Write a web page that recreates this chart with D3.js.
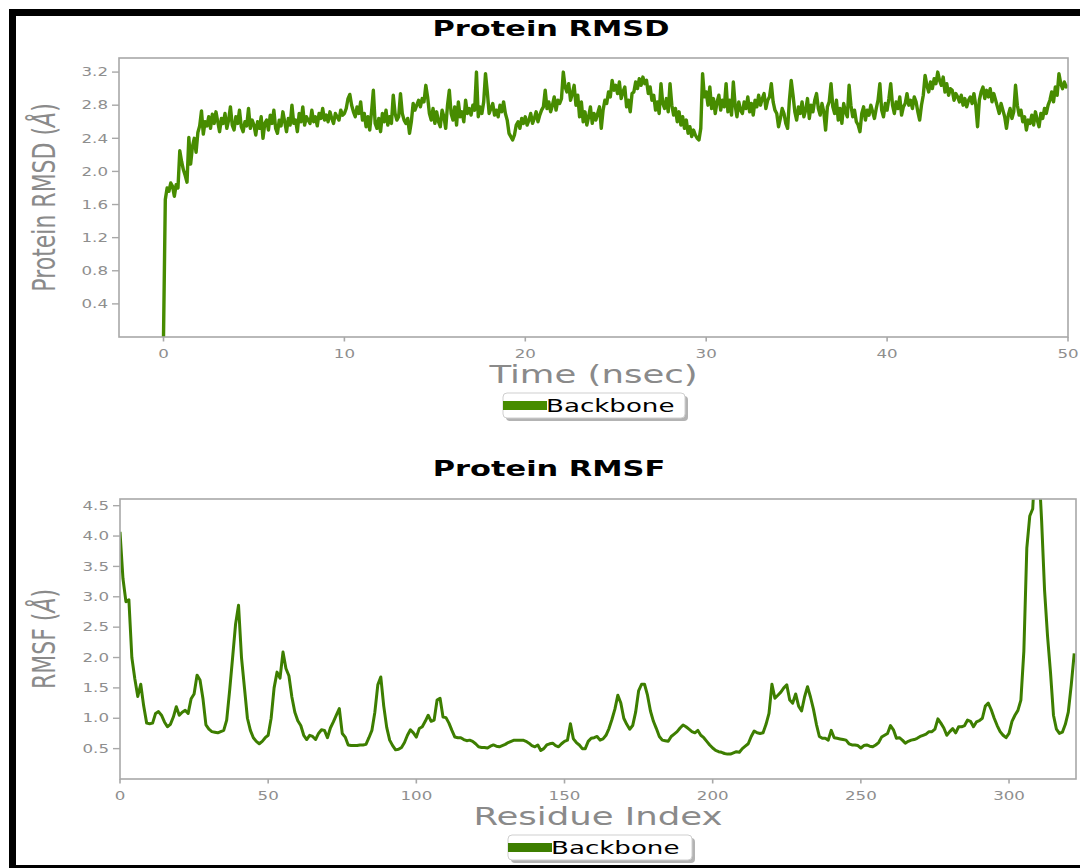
<!DOCTYPE html>
<html>
<head>
<meta charset="utf-8">
<script src="https://cdn.jsdelivr.net/npm/d3@7"></script>
<style>
  html, body { margin: 0; padding: 0; background: #fff; }
  svg { display: block; }
</style>
</head>
<body>
<script>
// ---- data -------------------------------------------------------------
// Backbone RMSD (Å), one frame every 0.1 ns from 0 to 50 ns
const rmsdStepNs = 0.1;
const rmsdBackbone = [
  0.00, 1.66, 1.80, 1.76, 1.86, 1.82, 1.70, 1.84, 1.80, 2.25,
  2.12, 2.02, 1.95, 1.87, 2.41, 2.09, 2.30, 2.40, 2.23, 2.47,
  2.55, 2.73, 2.45, 2.60, 2.55, 2.66, 2.52, 2.69, 2.58, 2.72,
  2.60, 2.48, 2.64, 2.58, 2.70, 2.52, 2.62, 2.78, 2.56, 2.50,
  2.66, 2.58, 2.74, 2.54, 2.48, 2.60, 2.55, 2.76, 2.52, 2.62,
  2.56, 2.44, 2.60, 2.52, 2.66, 2.40, 2.58, 2.62, 2.50, 2.68,
  2.58, 2.74, 2.52, 2.46, 2.62, 2.55, 2.72, 2.60, 2.48, 2.64,
  2.56, 2.80, 2.58, 2.62, 2.48, 2.70, 2.60, 2.78, 2.56, 2.66,
  2.62, 2.58, 2.74, 2.60, 2.66, 2.55, 2.70, 2.64, 2.76, 2.62,
  2.68, 2.60, 2.72, 2.64, 2.58, 2.70, 2.66, 2.62, 2.74, 2.68,
  2.70, 2.76, 2.88, 2.93, 2.80, 2.72, 2.66, 2.78, 2.70, 2.84,
  2.62, 2.70, 2.54, 2.66, 2.50, 2.72, 2.98, 2.58, 2.52, 2.64,
  2.48, 2.70, 2.60, 2.74, 2.56, 2.66, 2.58, 2.92, 2.70, 2.62,
  2.66, 2.94, 2.70, 2.62, 2.58, 2.64, 2.46, 2.60, 2.82, 2.74,
  2.80, 2.86, 2.78, 2.88, 2.84, 3.04, 2.90, 2.70, 2.62, 2.76,
  2.58, 2.72, 2.60, 2.54, 2.74, 2.66, 2.52, 2.80, 2.98, 2.70,
  2.62, 2.78, 2.56, 2.84, 2.66, 2.72, 2.60, 2.86, 2.70, 2.76,
  2.68, 2.80, 2.74, 3.20, 2.66, 2.78, 2.70, 2.84, 3.18, 2.96,
  2.70, 2.76, 2.82, 2.68, 2.74, 2.66, 2.80, 2.72, 2.84, 2.70,
  2.62, 2.46, 2.42, 2.38, 2.44, 2.56, 2.60, 2.52, 2.64, 2.58,
  2.66, 2.56, 2.62, 2.70, 2.58, 2.64, 2.72, 2.60, 2.68, 2.74,
  2.78, 2.98, 2.76, 2.84, 2.72, 2.80, 2.90, 2.74, 2.86, 2.82,
  2.88, 3.20, 3.02, 2.96, 3.06, 2.86, 2.94, 3.04, 2.80, 2.92,
  2.66, 2.84, 2.60, 2.72, 2.56, 2.66, 2.78, 2.58, 2.70, 2.62,
  2.70, 2.78, 2.52, 2.74, 2.86, 2.82, 2.96, 2.90, 3.10, 2.98,
  3.04, 2.94, 3.08, 2.88, 2.96, 3.02, 2.78, 2.86, 2.72, 2.94,
  2.96, 3.08, 3.00, 3.12, 3.04, 3.14, 3.06, 3.10, 2.94, 3.02,
  2.86, 2.92, 2.74, 2.84, 2.70, 3.06, 2.82, 2.76, 2.88, 2.72,
  3.06, 2.80, 2.68, 2.76, 2.60, 2.72, 2.56, 2.66, 2.52, 2.62,
  2.46, 2.54, 2.42, 2.50, 2.44, 2.40, 2.38, 2.52, 3.18, 2.90,
  2.96, 2.80, 3.02, 2.76, 2.88, 2.70, 2.84, 2.92, 2.74, 2.86,
  2.78, 3.06, 2.72, 2.86, 2.68, 3.08, 2.80, 2.66, 2.84, 2.74,
  2.70, 2.84, 2.76, 2.90, 2.72, 2.82, 2.68, 2.86, 2.78, 2.92,
  2.80, 2.88, 2.94, 2.76, 2.86, 2.90, 3.06, 2.84, 2.74, 2.70,
  2.54, 2.64, 2.76, 2.70, 2.58, 2.52, 2.86, 3.10, 2.92, 2.72,
  2.62, 2.78, 2.70, 2.84, 2.66, 2.74, 2.88, 2.64, 2.80, 2.72,
  2.86, 2.94, 2.76, 2.68, 2.82, 2.72, 2.50, 2.78, 2.84, 3.06,
  2.78, 2.70, 2.86, 2.62, 2.76, 2.58, 2.82, 2.72, 2.66, 3.04,
  2.80, 2.66, 2.74, 2.60, 2.56, 2.48, 2.70, 2.78, 2.62, 2.74,
  2.68, 2.80, 2.72, 2.64, 2.76, 2.86, 3.06, 2.74, 2.66, 2.82,
  2.74, 2.88, 3.06, 2.80, 2.70, 2.84, 2.76, 2.90, 2.68, 2.78,
  2.82, 2.94, 2.80, 2.86, 2.76, 2.90, 2.84, 2.72, 2.62, 2.80,
  2.92, 3.16, 3.04, 2.96, 3.08, 3.00, 3.12, 3.06, 3.20, 3.10,
  3.04, 3.14, 2.96, 3.06, 2.92, 3.00, 2.98, 2.86, 2.94, 2.90,
  2.84, 2.92, 2.80, 2.88, 2.78, 2.86, 2.90, 2.82, 2.94, 2.80,
  2.54, 2.86, 2.96, 3.02, 2.88, 2.98, 2.90, 3.00, 2.84, 2.94,
  2.86, 2.78, 2.70, 2.82, 2.74, 2.66, 2.52, 2.68, 2.76, 2.64,
  2.72, 3.04, 2.80, 2.68, 2.74, 2.60, 2.66, 2.50, 2.62, 2.58,
  2.68, 2.56, 2.72, 2.62, 2.54, 2.70, 2.64, 2.76, 2.70, 2.80,
  2.86, 2.96, 2.84, 3.02, 2.92, 3.18, 3.06, 3.00, 3.08, 3.02,
  3.04
];

// Backbone RMSF (Å) per residue, residue index 0 .. 322
const rmsfBackbone = [
  4.07, 3.30, 2.92, 2.95, 2.00, 1.65, 1.36, 1.56, 1.20, 0.92,
  0.91, 0.92, 1.08, 1.11, 1.05, 0.94, 0.86, 0.90, 1.02, 1.19,
  1.05, 1.10, 1.13, 1.08, 1.32, 1.40, 1.71, 1.63, 1.32, 0.89,
  0.82, 0.78, 0.77, 0.76, 0.78, 0.80, 0.97, 1.46, 2.00, 2.55,
  2.86, 2.00, 1.50, 1.00, 0.80, 0.68, 0.62, 0.58, 0.62, 0.68,
  0.72, 1.00, 1.50, 1.76, 1.66, 2.09, 1.82, 1.70, 1.35, 1.10,
  0.96, 0.88, 0.72, 0.65, 0.72, 0.70, 0.65, 0.75, 0.81, 0.80,
  0.68, 0.84, 0.94, 1.05, 1.16, 0.75, 0.69, 0.56, 0.55, 0.55,
  0.55, 0.56, 0.56, 0.57, 0.68, 0.80, 1.10, 1.55, 1.68, 1.20,
  0.85, 0.64, 0.55, 0.48, 0.49, 0.52, 0.60, 0.72, 0.81, 0.76,
  0.69, 0.83, 0.86, 0.95, 1.05, 0.95, 0.97, 1.30, 1.33, 1.02,
  1.01, 0.92, 0.80, 0.69, 0.68, 0.68, 0.65, 0.63, 0.64, 0.62,
  0.58, 0.53, 0.52, 0.52, 0.51, 0.54, 0.56, 0.54, 0.53, 0.55,
  0.57, 0.60, 0.62, 0.64, 0.64, 0.64, 0.64, 0.62, 0.59, 0.55,
  0.53, 0.56, 0.47, 0.50, 0.56, 0.58, 0.59, 0.55, 0.53, 0.58,
  0.62, 0.64, 0.91, 0.66, 0.60, 0.56, 0.50, 0.50, 0.62, 0.67,
  0.68, 0.70, 0.64, 0.66, 0.72, 0.83, 0.98, 1.15, 1.38, 1.25,
  1.00, 0.90, 0.82, 0.88, 1.10, 1.45, 1.56, 1.56, 1.38, 1.12,
  0.95, 0.83, 0.70, 0.64, 0.63, 0.62, 0.70, 0.74, 0.78, 0.84,
  0.89, 0.86, 0.82, 0.78, 0.76, 0.80, 0.72, 0.68, 0.62, 0.56,
  0.51, 0.47, 0.45, 0.44, 0.42, 0.41, 0.41, 0.43, 0.45, 0.44,
  0.50, 0.54, 0.58, 0.70, 0.79, 0.76, 0.75, 0.76, 0.90, 1.08,
  1.56, 1.33, 1.38, 1.43, 1.50, 1.55, 1.30, 1.25, 1.40, 1.20,
  1.12, 1.35, 1.52, 1.35, 1.15, 0.90, 0.70, 0.67, 0.67, 0.64,
  0.80, 0.68, 0.67, 0.66, 0.65, 0.64, 0.58, 0.56, 0.56, 0.55,
  0.51, 0.55, 0.56, 0.54, 0.53, 0.56, 0.60, 0.69, 0.72, 0.75,
  0.88, 0.81, 0.67, 0.68, 0.64, 0.59, 0.62, 0.64, 0.65, 0.67,
  0.70, 0.72, 0.74, 0.78, 0.78, 0.82, 0.99, 0.92, 0.84, 0.72,
  0.78, 0.83, 0.76, 0.86, 0.86, 0.88, 0.97, 0.95, 0.86, 0.94,
  0.96, 1.00, 1.20, 1.25, 1.14, 1.00, 0.88, 0.78, 0.72, 0.68,
  0.75, 0.95, 1.05, 1.13, 1.30, 2.10, 3.80, 4.33, 4.45, 5.40,
  5.20, 4.25, 3.10, 2.35, 1.75, 1.05, 0.82, 0.75, 0.77, 0.90,
  1.10, 1.55, 2.07
];

// Axis ticks
const rmsdTicksX = [0, 10, 20, 30, 40, 50];
const rmsdTicksY = [0.4, 0.8, 1.2, 1.6, 2.0, 2.4, 2.8, 3.2];
const rmsfTicksX = [0, 50, 100, 150, 200, 250, 300];
const rmsfTicksY = [0.5, 1.0, 1.5, 2.0, 2.5, 3.0, 3.5, 4.0, 4.5];

const seriesName = "Backbone";

// ---- styling ----------------------------------------------------------
const W = 1080, H = 868;
const SX = 1.45;                 // horizontal stretch of the exported figure
const FONT = "'DejaVu Sans', Verdana, sans-serif";
const SPINE = "#a8a8a8";
const TICKTXT = "#8e8e8e";
const LABEL = "#8a8a8a";
const GREEN_TOP = "#478c00";
const GREEN_BOTTOM = "#3d7e00";

const svg = d3.select("body").append("svg")
  .attr("width", W).attr("height", H)
  .attr("viewBox", `0 0 ${W} ${H}`);

svg.append("rect").attr("width", W).attr("height", H).attr("fill", "#fff");

// frame around the figure
svg.append("rect").attr("x", 9).attr("y", 9).attr("width", W - 9).attr("height", 7).attr("fill", "#000");
svg.append("rect").attr("x", 9).attr("y", 9).attr("width", 7).attr("height", H - 9).attr("fill", "#000");
svg.append("rect").attr("x", 9).attr("y", 865).attr("width", W - 9).attr("height", 3).attr("fill", "#000");

// text drawn with the same horizontal stretch as the rest of the figure
function stretchedText(g, x, y, str, size, opts = {}) {
  const rot = opts.rotate ? ` rotate(${opts.rotate})` : "";
  return g.append("text")
    .attr("transform", `translate(${x},${y}) scale(${SX},1)${rot}`)
    .attr("text-anchor", opts.anchor || "middle")
    .attr("font-family", FONT)
    .attr("font-size", size)
    .attr("font-weight", opts.weight || "normal")
    .attr("fill", opts.fill || "#000")
    .text(str);
}

function panel(cfg) {
  const g = svg.append("g");
  const x = d3.scaleLinear().domain(cfg.xDomain).range([cfg.left, cfg.right]);
  const y = d3.scaleLinear().domain(cfg.yDomain).range([cfg.bottom, cfg.top]);

  const clipId = "clip-" + cfg.id;
  svg.append("defs").append("clipPath").attr("id", clipId)
    .append("rect").attr("x", cfg.left).attr("y", cfg.top)
    .attr("width", cfg.right - cfg.left).attr("height", cfg.bottom - cfg.top);

  // data line
  const line = d3.line().x(d => x(d[0])).y(d => y(d[1]));
  g.append("path")
    .datum(cfg.points)
    .attr("clip-path", `url(#${clipId})`)
    .attr("fill", "none")
    .attr("stroke", cfg.color)
    .attr("stroke-width", cfg.lineWidth)
    .attr("stroke-linejoin", "round")
    .attr("d", line);

  // spines
  g.append("rect")
    .attr("x", cfg.left).attr("y", cfg.top)
    .attr("width", cfg.right - cfg.left).attr("height", cfg.bottom - cfg.top)
    .attr("fill", "none").attr("stroke", SPINE).attr("stroke-width", 1.6);

  // y ticks
  const yt = g.append("g");
  yt.selectAll("line").data(cfg.yTicks).join("line")
    .attr("x1", cfg.left - 7).attr("x2", cfg.left)
    .attr("y1", d => y(d)).attr("y2", d => y(d))
    .attr("stroke", SPINE).attr("stroke-width", 1.4);
  yt.selectAll("text").data(cfg.yTicks).join("text")
    .attr("transform", d => `translate(${cfg.left - 11},${y(d) + 4.2}) scale(${SX},1)`)
    .attr("text-anchor", "end")
    .attr("font-family", FONT).attr("font-size", 11.5)
    .attr("fill", TICKTXT)
    .text(d => d.toFixed(1));

  // x ticks
  const xt = g.append("g");
  xt.selectAll("line").data(cfg.xTicks).join("line")
    .attr("x1", d => x(d)).attr("x2", d => x(d))
    .attr("y1", cfg.bottom).attr("y2", cfg.bottom + 4.5)
    .attr("stroke", SPINE).attr("stroke-width", 1.6);
  xt.selectAll("text").data(cfg.xTicks).join("text")
    .attr("transform", d => `translate(${x(d)},${cfg.bottom + 20.5}) scale(${SX},1)`)
    .attr("text-anchor", "middle")
    .attr("font-family", FONT).attr("font-size", 11.5)
    .attr("fill", TICKTXT)
    .text(d => d);

  // title
  stretchedText(g, cfg.titleX, cfg.titleY, cfg.title, 21, { weight: "bold" });

  // axis labels
  stretchedText(g, (cfg.left + cfg.right) / 2, cfg.bottom + 46, cfg.xLabel, 24.5, { fill: LABEL });
  const yl = stretchedText(g, 55, (cfg.top + cfg.bottom) / 2, "", 22, { fill: LABEL, rotate: -90 });
  yl.append("tspan").text(cfg.yLabel + " (");
  yl.append("tspan").attr("font-style", "italic").text("Å");
  yl.append("tspan").text(")");

  // legend with drop shadow
  const lg = g.append("g");
  const lx = cfg.legendX, ly = cfg.bottom + 56, lw = cfg.legendW, lh = 25;
  lg.append("rect").attr("x", lx + 3).attr("y", ly + 3).attr("width", lw).attr("height", lh)
    .attr("rx", 4).attr("fill", "#9a9a9a").attr("opacity", 0.75);
  lg.append("rect").attr("x", lx).attr("y", ly).attr("width", lw).attr("height", lh)
    .attr("rx", 4).attr("fill", "#fff").attr("stroke", "#cfcfcf").attr("stroke-width", 1);
  lg.append("rect").attr("x", lx).attr("y", ly + lh / 2 - 4.5).attr("width", 44).attr("height", 9)
    .attr("fill", cfg.color);
  stretchedText(lg, lx + 43, ly + lh / 2 + 6.5, seriesName, 18, { anchor: "start" });

  return g;
}

panel({
  id: "rmsd",
  points: rmsdBackbone.map((v, i) => [i * rmsdStepNs, v]),
  xDomain: [-2.46, 50], yDomain: [0, 3.37],
  left: 119, right: 1068, top: 58, bottom: 337,
  xTicks: rmsdTicksX, yTicks: rmsdTicksY,
  color: GREEN_TOP, lineWidth: 3.4,
  title: "Protein RMSD", titleX: 551, titleY: 36,
  xLabel: "Time (nsec)", yLabel: "Protein RMSD",
  legendX: 503, legendW: 182
});

panel({
  id: "rmsf",
  points: rmsfBackbone.map((v, i) => [i, v]),
  xDomain: [0, 322.6], yDomain: [0, 4.61],
  left: 120, right: 1076, top: 499, bottom: 779,
  xTicks: rmsfTicksX, yTicks: rmsfTicksY,
  color: GREEN_BOTTOM, lineWidth: 3,
  title: "Protein RMSF", titleX: 549, titleY: 476,
  xLabel: "Residue Index", yLabel: "RMSF",
  legendX: 508, legendW: 184
});
</script>
</body>
</html>
